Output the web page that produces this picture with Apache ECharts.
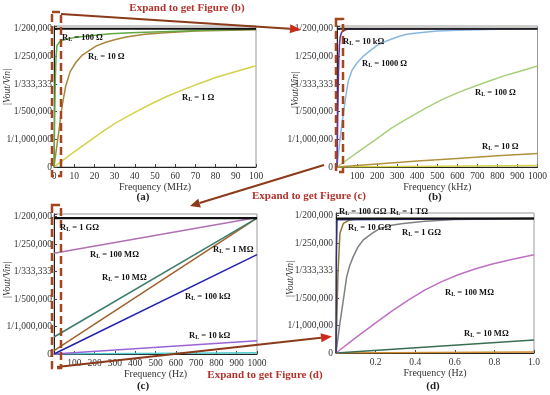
<!DOCTYPE html>
<html><head><meta charset="utf-8">
<script src="https://cdn.jsdelivr.net/npm/echarts@6/dist/echarts.min.js"></script>
<style>html,body{margin:0;padding:0;background:#fff}#c{width:550px;height:395px}</style>
</head><body><div id="c"></div>
<script>
// ---- tick labels (y is linear in |Vout/Vin|, unit 1e-6) ----
const yTickLabels = ['0', '1/1,000,000', '1/500,000', '1/333,333', '1/250,000', '1/200,000'];

// ---- (a) Frequency (MHz) ----
const aFreq_R1000 = [0, 100];
const aVal_R1000  = [5.0, 5.0];
const aFreq_R100  = [0, 0.3, 0.6, 1, 1.5, 3, 6, 10, 18, 28, 38, 57, 75, 100];
const aVal_R100   = [0, 1.6, 3.0, 4.0, 4.4, 4.55, 4.62, 4.68, 4.75, 4.82, 4.86, 4.9, 4.95, 4.98];
const aFreq_R10   = [0, 1, 2.5, 4, 5.8, 8, 10.8, 14, 17.4, 21, 25.7, 30, 35.7, 45, 55, 70, 100];
const aVal_R10    = [0, 0.55, 1.35, 2.2, 2.93, 3.45, 3.78, 4.05, 4.21, 4.38, 4.51, 4.6, 4.7, 4.8, 4.86, 4.92, 4.96];
const aFreq_R1    = [0, 2.5, 10, 22.8, 30, 39.3, 48, 55.8, 64, 72.3, 80, 88.8, 100];
const aVal_R1     = [0, 0.14, 0.55, 1.22, 1.57, 1.95, 2.28, 2.55, 2.8, 3.03, 3.24, 3.43, 3.66];

// ---- (b) Frequency (kHz) ----
const bFreq_R100k = [0, 1000];
const bVal_R100k  = [5.0, 5.0];
const bFreq_R10k  = [0, 3, 6, 9, 12, 16, 22, 30, 50, 1000];
const bVal_R10k   = [0, 1.5, 2.9, 3.9, 4.4, 4.7, 4.85, 4.93, 4.98, 5.0];
const bFreq_R1000 = [0, 15, 31, 45, 56, 75, 98, 130, 164, 200, 247, 300, 347, 400, 500, 600, 800, 1000];
const bVal_R1000  = [0, 1.0, 1.9, 2.6, 3.1, 3.5, 3.75, 4.0, 4.2, 4.4, 4.56, 4.7, 4.8, 4.85, 4.92, 4.95, 4.98, 5.0];
const bFreq_R100  = [0, 100, 189, 270, 355, 440, 521, 600, 687, 770, 852, 930, 1000];
const bVal_R100   = [0, 0.52, 0.97, 1.4, 1.77, 2.12, 2.43, 2.68, 2.92, 3.14, 3.34, 3.5, 3.65];
const bFreq_R10   = [0, 200, 400, 600, 800, 1000];
const bVal_R10    = [0, 0.11, 0.22, 0.31, 0.41, 0.49];
const bFreq_R1    = [0, 500, 1000];
const bVal_R1     = [0, 0.03, 0.05];

// ---- (c) Frequency (Hz) ----
const cFreq       = [0, 1000];
const cVal_R1G    = [4.95, 4.95];
const cVal_R100M  = [3.67, 4.97];
const cVal_R10M   = [0.62, 4.95];
const cVal_R1M    = [0.12, 4.95];
const cVal_R100k  = [0, 3.62];
const cVal_R10k   = [0, 0.48];
const cVal_R1k    = [0, 0.05];

// ---- (d) Frequency (Hz) ----
const dFreq_R1T   = [0, 1.0];
const dVal_R1T    = [4.9, 4.9];
const dFreq_R100G = [0, 0.002, 0.005, 1.0];
const dVal_R100G  = [0, 3.5, 4.85, 4.9];
const dFreq_R10G  = [0, 0.005, 0.01, 0.02, 0.037, 0.07, 0.1, 0.15, 1.0];
const dVal_R10G   = [0, 1.5, 2.9, 4.36, 4.72, 4.85, 4.87, 4.89, 4.9];
const dFreq_R1G   = [0, 0.01, 0.02, 0.037, 0.054, 0.07, 0.087, 0.11, 0.138, 0.18, 0.222, 0.28, 0.34, 0.45, 0.6, 0.8, 1.0];
const dVal_R1G    = [0, 0.55, 1.1, 1.93, 2.78, 3.2, 3.51, 3.85, 4.12, 4.35, 4.54, 4.65, 4.72, 4.8, 4.86, 4.88, 4.9];
const dFreq_R100M = [0, 0.1, 0.197, 0.28, 0.365, 0.45, 0.534, 0.62, 0.702, 0.79, 0.87, 0.94, 1.0];
const dVal_R100M  = [0, 0.56, 1.08, 1.52, 1.93, 2.3, 2.6, 2.86, 3.06, 3.24, 3.38, 3.49, 3.58];
const dFreq_R10M  = [0, 0.5, 1.0];
const dVal_R10M   = [0, 0.24, 0.47];
const dFreq_R1M   = [0, 1.0];
const dVal_R1M    = [0, 0.04];

const SERIF = '"Liberation Serif", "DejaVu Serif", serif';
const zip = (xs, ys) => xs.map((x, i) => [x, ys[i]]);

function line(xs, ys, color, gi, width) {
  return { type: 'line', xAxisIndex: gi, yAxisIndex: gi, data: zip(xs, ys), showSymbol: false,
    smooth: false, lineStyle: { color, width: width || 1.5, join: 'round' }, itemStyle: { color }, z: 3 };
}

function yAx(gi, margin) {
  return { type: 'value', gridIndex: gi, min: 0, max: 5.1, interval: 1,
    axisLine: { show: true, lineStyle: { color: '#222', width: 1 } },
    axisTick: { show: true, inside: true, length: 3, lineStyle: { color: '#444' } },
    splitLine: { show: false },
    axisLabel: { margin, fontSize: 9.5, fontFamily: SERIF, color: '#333',
      formatter: v => { const i = Math.round(v); return (Math.abs(v - i) < 1e-9 && yTickLabels[i] !== undefined) ? yTickLabels[i] : ''; } } };
}
function xAx(gi, max, interval, name, gap, showMin, fmt) {
  return { type: 'value', gridIndex: gi, min: 0, max, interval,
    name, nameLocation: 'middle', nameGap: gap,
    nameTextStyle: { fontSize: 10, fontFamily: SERIF, color: '#333' },
    axisLine: { show: true, lineStyle: { color: '#222', width: 1 } },
    axisTick: { show: true, inside: true, length: 3, lineStyle: { color: '#444' } },
    splitLine: { show: false },
    axisLabel: { margin: 4, fontSize: 9.5, fontFamily: SERIF, color: '#333', showMinLabel: showMin,
      formatter: fmt || (v => String(v)) } };
}

function arrowEls(x1, y1, x2, y2, lineColor, headColor, headLen, headW) {
  const dx = x2 - x1, dy = y2 - y1, L = Math.hypot(dx, dy), ux = dx / L, uy = dy / L;
  const bx = x2 - ux * headLen, by = y2 - uy * headLen;
  return [
    { type: 'line', shape: { x1, y1, x2: bx, y2: by }, style: { stroke: lineColor, lineWidth: 2 }, z: 100 },
    { type: 'polygon', shape: { points: [[x2, y2], [bx - uy * headW, by + ux * headW], [bx + uy * headW, by - ux * headW]] },
      style: { fill: headColor }, z: 101 }
  ];
}
function txt(x, y, text, font, fill, align) {
  return { type: 'text', x, y, z: 110, style: { text, font, fill, align: align || 'center', verticalAlign: 'middle',
    textAlign: align || 'center', textVerticalAlign: 'middle' } };
}
function vtxt(x, y, text) {
  return { type: 'text', x, y, rotation: Math.PI / 2, z: 110,
    style: { text, font: 'italic 9.5px ' + SERIF, fill: '#333', align: 'center', verticalAlign: 'middle',
      textAlign: 'center', textVerticalAlign: 'middle' } };
}
function rl(x, y, val) {
  return { type: 'text', x, y, z: 110, style: {
    text: '{r|R}{s|L}{r| = ' + val + '}', verticalAlign: 'middle', textVerticalAlign: 'middle',
    rich: { r: { fontSize: 8.5, fontWeight: 'bold', fontFamily: SERIF, fill: '#111' },
            s: { fontSize: 6, fontWeight: 'bold', fontFamily: SERIF, fill: '#111', verticalAlign: 'bottom' } } } };
}
function drect(x, y, w, h) {
  return { type: 'rect', shape: { x, y, width: w, height: h }, z: 105,
    style: { fill: 'none', stroke: '#a2461e', lineWidth: 2.5, lineDash: [8, 4] } };
}

const ANN = '#b3322b';
const graphic = [].concat(
  [drect(52, 12, 9, 164), drect(336, 19, 7, 153), drect(52, 205, 9, 163)],
  arrowEls(61, 14, 301, 29.5, '#8b3a1a', '#cc2a1a', 11, 4.5),
  arrowEls(324, 165, 190, 206, '#8b3a1a', '#8b3a1a', 10, 4.5),
  arrowEls(57, 367, 332, 336.5, '#8b3a1a', '#cc2a1a', 11, 4.5),
  [
    txt(187, 8, 'Expand to get Figure (b)', 'bold 11px ' + SERIF, ANN),
    txt(309, 196, 'Expand to get Figure (c)', 'bold 11px ' + SERIF, ANN),
    txt(265, 375, 'Expand to get Figure (d)', 'bold 11px ' + SERIF, ANN),
    txt(143, 197, '(a)', 'bold 11px ' + SERIF, '#222'),
    txt(435, 197, '(b)', 'bold 11px ' + SERIF, '#222'),
    txt(143, 386, '(c)', 'bold 11px ' + SERIF, '#222'),
    txt(433, 386, '(d)', 'bold 11px ' + SERIF, '#222'),
    vtxt(7, 87, '|Vout/Vin|'), vtxt(295, 90, '|Vout/Vin|'),
    vtxt(7, 280, '|Vout/Vin|'), vtxt(290, 279, '|Vout/Vin|'),
    rl(62, 38, '100 Ω'), rl(88, 57, '10 Ω'), rl(182, 98, '1 Ω'),
    rl(343, 42, '10 kΩ'), rl(362, 64, '1000 Ω'), rl(475, 93, '100 Ω'), rl(482, 147, '10 Ω'),
    rl(60, 228, '1 GΩ'), rl(90, 255, '100 MΩ'), rl(102, 278, '10 MΩ'), rl(213, 250, '1 MΩ'),
    rl(185, 297, '100 kΩ'), rl(189, 336, '10 kΩ'),
    rl(339, 212, '100 GΩ'), rl(390, 212, '1 TΩ'), rl(348, 228, '10 GΩ'), rl(402, 233, '1 GΩ'),
    rl(445, 293, '100 MΩ'), rl(464, 334, '10 MΩ')
  ]
);

const gridStyle = { show: true, borderColor: '#999', borderWidth: 1, backgroundColor: 'transparent' };
const option = {
  animation: false,
  backgroundColor: '#fff',
  grid: [
    Object.assign({ left: 54, top: 26, width: 202, height: 141 }, gridStyle),
    Object.assign({ left: 337, top: 26, width: 201, height: 141 }, gridStyle),
    Object.assign({ left: 54, top: 214, width: 203, height: 140 }, gridStyle),
    Object.assign({ left: 336, top: 213, width: 198, height: 140 }, gridStyle)
  ],
  xAxis: [
    xAx(0, 100, 10, 'Frequency (MHz)', 12, true),
    xAx(1, 1000, 100, 'Frequency (kHz)', 15, false),
    xAx(2, 1000, 100, 'Frequency (Hz)', 14, false),
    xAx(3, 1.0, 0.2, 'Frequency (Hz)', 15, false, v => v.toFixed(1))
  ],
  yAxis: [yAx(0, 2), yAx(1, 4), yAx(2, 2), yAx(3, 3)],
  series: [
    line(aFreq_R1, aVal_R1, '#d4d24c', 0),
    line(aFreq_R10, aVal_R10, '#a8863a', 0),
    line(aFreq_R100, aVal_R100, '#62a844', 0),
    line(aFreq_R1000, aVal_R1000, '#111', 0, 2.2),

    line(bFreq_R1, bVal_R1, '#d8d44a', 1),
    line(bFreq_R10, bVal_R10, '#b0923c', 1),
    line(bFreq_R100, bVal_R100, '#a8d07c', 1),
    line(bFreq_R1000, bVal_R1000, '#88b8e2', 1),
    line(bFreq_R10k, bVal_R10k, '#6a2ca0', 1),
    line(bFreq_R100k, bVal_R100k, '#222', 1, 2.2),

    line(cFreq, cVal_R1k, '#52cccc', 2),
    line(cFreq, cVal_R10k, '#9a64d4', 2),
    line(cFreq, cVal_R100k, '#2222b4', 2),
    line(cFreq, cVal_R1M, '#a0602c', 2),
    line(cFreq, cVal_R10M, '#3c7c6c', 2),
    line(cFreq, cVal_R100M, '#b070b4', 2),
    line(cFreq, cVal_R1G, '#111', 2, 2.2),

    line(dFreq_R1M, dVal_R1M, '#d08a30', 3),
    line(dFreq_R10M, dVal_R10M, '#3a6e50', 3),
    line(dFreq_R100M, dVal_R100M, '#c070c4', 3),
    line(dFreq_R1G, dVal_R1G, '#808080', 3),
    line(dFreq_R10G, dVal_R10G, '#8a7a30', 3),
    line(dFreq_R100G, dVal_R100G, '#30307e', 3),
    line(dFreq_R1T, dVal_R1T, '#111', 3, 2.2)
  ],
  graphic
};
const chart = echarts.init(document.getElementById('c'), null, { renderer: 'canvas' });
chart.setOption(option);
</script>
</body></html>
